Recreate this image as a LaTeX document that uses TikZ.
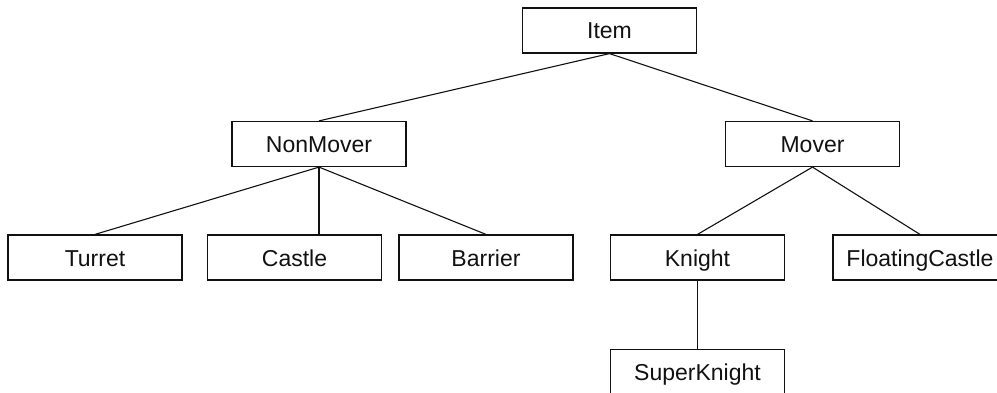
\documentclass[tikz,border=0pt]{standalone}
\usepackage{fontspec}
\setmainfont{Liberation Sans}
\usetikzlibrary{positioning}
\definecolor{ink}{HTML}{111111}
\tikzset{
  every node/.style={font=\fontsize{23}{27}\selectfont,text=ink},
  classbox/.style={draw=ink,line width=1.2pt,fill=white,minimum width=174pt,minimum height=45pt,inner sep=0pt,text height=19pt,text depth=2pt},
  link/.style={line width=1.1pt,draw=ink},
}
\begin{document}
\begin{tikzpicture}[x=1pt,y=-1pt]
\clip (0,0) rectangle (997,393);

\node[classbox] (item) at (609.5,30.5) {Item};
\node[classbox] (nonmover) at (319,144) {NonMover};
\node[classbox] (mover) at (812.5,144) {Mover};

\node[classbox] (turret) at (95,257.5) {Turret};
\node[classbox] (castle) at (294.5,257.5) {Castle};
\node[classbox] (barrier) at (486,257.5) {Barrier};
\node[classbox] (knight) at (697.5,257.5) {Knight};
\node[classbox] (floating) at (920,257.5) {FloatingCastle};
\node[classbox] (superknight) at (697.5,372) {SuperKnight};

\draw[link] (item.south) -- (nonmover.north);
\draw[link] (item.south) -- (mover.north);
\draw[link] (nonmover.south) -- (turret.north);
\draw[link] (nonmover.south) -- (nonmover.south |- castle.north);
\draw[link] (nonmover.south) -- (barrier.north);
\draw[link] (mover.south) -- (knight.north);
\draw[link] (mover.south) -- (floating.north);
\draw[link] (knight.south) -- (superknight.north);

\end{tikzpicture}
\end{document}
